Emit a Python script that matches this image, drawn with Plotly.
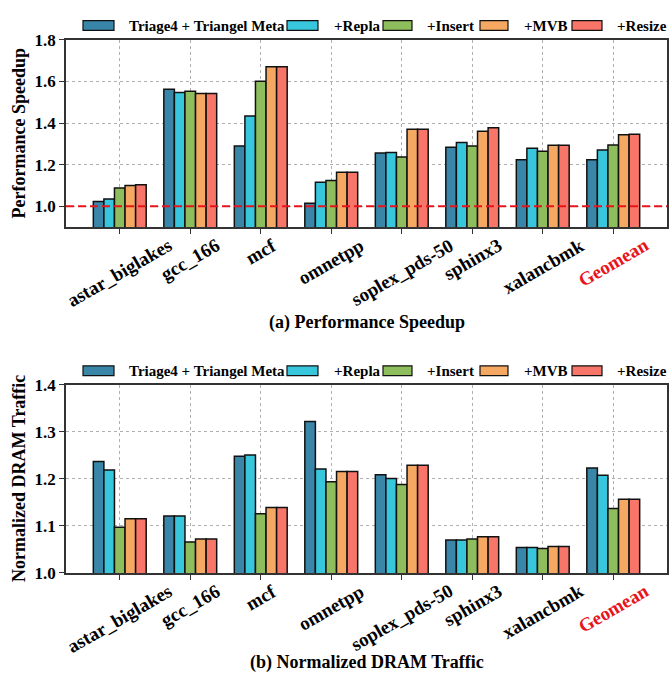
import plotly.graph_objects as go

categories = ["astar_biglakes", "gcc_166", "mcf", "omnetpp", "soplex_pds-50",
              "sphinx3", "xalancbmk", "Geomean"]
series_names = ["Triage4 + Triangel Meta", "+Repla", "+Insert", "+MVB", "+Resize"]
series_colors = ["#3a86a8", "#38c6dc", "#8dbd5c", "#f5a862", "#f8756a"]

speedup_triage = [1.023, 1.563, 1.290, 1.015, 1.256, 1.284, 1.223, 1.223]
speedup_repla = [1.035, 1.547, 1.434, 1.116, 1.259, 1.307, 1.279, 1.270]
speedup_insert = [1.088, 1.553, 1.601, 1.124, 1.237, 1.290, 1.265, 1.294]
speedup_mvb = [1.100, 1.542, 1.671, 1.163, 1.370, 1.361, 1.293, 1.344]
speedup_resize = [1.104, 1.542, 1.671, 1.163, 1.370, 1.377, 1.293, 1.346]

traffic_triage = [1.237, 1.121, 1.248, 1.322, 1.209, 1.070, 1.054, 1.223]
traffic_repla = [1.219, 1.121, 1.251, 1.221, 1.201, 1.070, 1.054, 1.208]
traffic_insert = [1.097, 1.066, 1.126, 1.194, 1.188, 1.072, 1.052, 1.137]
traffic_mvb = [1.115, 1.072, 1.139, 1.216, 1.229, 1.077, 1.056, 1.157]
traffic_resize = [1.115, 1.072, 1.139, 1.216, 1.229, 1.077, 1.056, 1.157]

speedup_ticks = [1.0, 1.2, 1.4, 1.6, 1.8]
traffic_ticks = [1.0, 1.1, 1.2, 1.3, 1.4]

speedup = [speedup_triage, speedup_repla, speedup_insert, speedup_mvb, speedup_resize]
traffic = [traffic_triage, traffic_repla, traffic_insert, traffic_mvb, traffic_resize]

W, H = 672, 684
FONT = "Liberation Serif"


def px(x):
    return x / W


def py(y):
    return 1 - y / H


fig = go.Figure()
for name, color, vals in zip(series_names, series_colors, speedup):
    fig.add_trace(go.Bar(x=categories, y=vals, name=name, marker_color=color,
                         marker_line=dict(color="#111111", width=1.5),
                         xaxis="x", yaxis="y", showlegend=False))
for name, color, vals in zip(series_names, series_colors, traffic):
    fig.add_trace(go.Bar(x=categories, y=vals, name=name, marker_color=color,
                         marker_line=dict(color="#111111", width=1.5),
                         xaxis="x2", yaxis="y2", showlegend=False))

xrange = [-0.7625, len(categories) - 1 + 0.7625]
axis_common = dict(showline=True, mirror=True, linecolor="#333333", linewidth=1.5,
                   showgrid=True, gridcolor="#b0b0b0", griddash="dot", gridwidth=0.8,
                   ticks="outside", ticklen=5, tickwidth=1.2, tickcolor="#333333",
                   zeroline=False)

top_y = [31.7, 224.3]
bot_y = [386.7, 580.0]
x_dom = [px(66), px(667)]

fig.update_layout(
    width=W, height=H,
    margin=dict(l=0, r=0, t=0, b=0),
    paper_bgcolor="white", plot_bgcolor="white",
    barmode="group", bargap=0.25, bargroupgap=0,
    font=dict(family=FONT, color="black"),
    xaxis=dict(domain=x_dom, anchor="y", type="category", range=xrange,
               showticklabels=False, **axis_common),
    yaxis=dict(domain=[py(top_y[1]), py(top_y[0])], anchor="x", range=[0.9, 1.8],
               tickvals=speedup_ticks, tickformat=".1f",
               tickfont=dict(family=FONT, size=17, weight="bold", color="black"),
               **axis_common),
    xaxis2=dict(domain=x_dom, anchor="y2", type="category", range=xrange,
                showticklabels=False, **axis_common),
    yaxis2=dict(domain=[py(bot_y[1]), py(bot_y[0])], anchor="x2", range=[1.0, 1.4],
                tickvals=traffic_ticks, tickformat=".1f",
                tickfont=dict(family=FONT, size=17, weight="bold", color="black"),
                **axis_common),
)

# reference line at 1.0 in speedup panel
fig.add_shape(type="line", xref="x domain", yref="y", x0=0, x1=1, y0=1.0, y1=1.0,
              line=dict(color="#e8141c", width=2.2, dash="8px,4px"), layer="above")

annotations = []
# rotated category labels (centered under each tick, like the original)
for xa, ya in (("x", "y"), ("x2", "y2")):
    for c in categories:
        annotations.append(dict(
            x=c, xref=xa, y=-0.025, yref=ya + " domain", xanchor="center", yanchor="top",
            text=c, showarrow=False, textangle=-30,
            font=dict(family=FONT, size=19, weight="bold",
                      color="#e8141c" if c == "Geomean" else "black")))

# axis titles
annotations.append(dict(x=px(19), y=py((top_y[0] + top_y[1]) / 2), xref="paper", yref="paper",
                        text="Performance Speedup", textangle=-90, showarrow=False,
                        xanchor="center", yanchor="middle",
                        font=dict(family=FONT, size=18, weight="bold")))
annotations.append(dict(x=px(19), y=py((bot_y[0] + bot_y[1]) / 2), xref="paper", yref="paper",
                        text="Normalized DRAM Traffic", textangle=-90, showarrow=False,
                        xanchor="center", yanchor="middle",
                        font=dict(family=FONT, size=18, weight="bold")))
# captions
annotations.append(dict(x=px(366.5), y=py(322), xref="paper", yref="paper",
                        text="(a) Performance Speedup", showarrow=False,
                        xanchor="center", yanchor="middle",
                        font=dict(family=FONT, size=18, weight="bold")))
annotations.append(dict(x=px(366.5), y=py(672), xref="paper", yref="paper",
                        text="(b) Normalized DRAM Traffic", showarrow=False,
                        xanchor="center", yanchor="middle",
                        font=dict(family=FONT, size=18, weight="bold")))

# custom legends (wide swatches like the original)
swatch_x = [(83, 114), (287, 318), (383, 412), (480, 508), (572, 602)]
text_x = [127, 332, 425, 522, 615]
for yc in (17.0, 372.0):
    for (x0, x1), tx, name, color in zip(swatch_x, text_x, series_names, series_colors):
        fig.add_shape(type="rect", xref="paper", yref="paper",
                      x0=px(x0), x1=px(x1), y0=py(yc + 5), y1=py(yc - 5),
                      fillcolor=color, line=dict(color="#111111", width=1.2))
        annotations.append(dict(x=px(tx), y=py(yc), xref="paper", yref="paper",
                                text=name, showarrow=False, xanchor="left", yanchor="middle",
                                font=dict(family=FONT, size=15, weight="bold")))

fig.update_layout(annotations=annotations)
fig.write_html("out.html")
